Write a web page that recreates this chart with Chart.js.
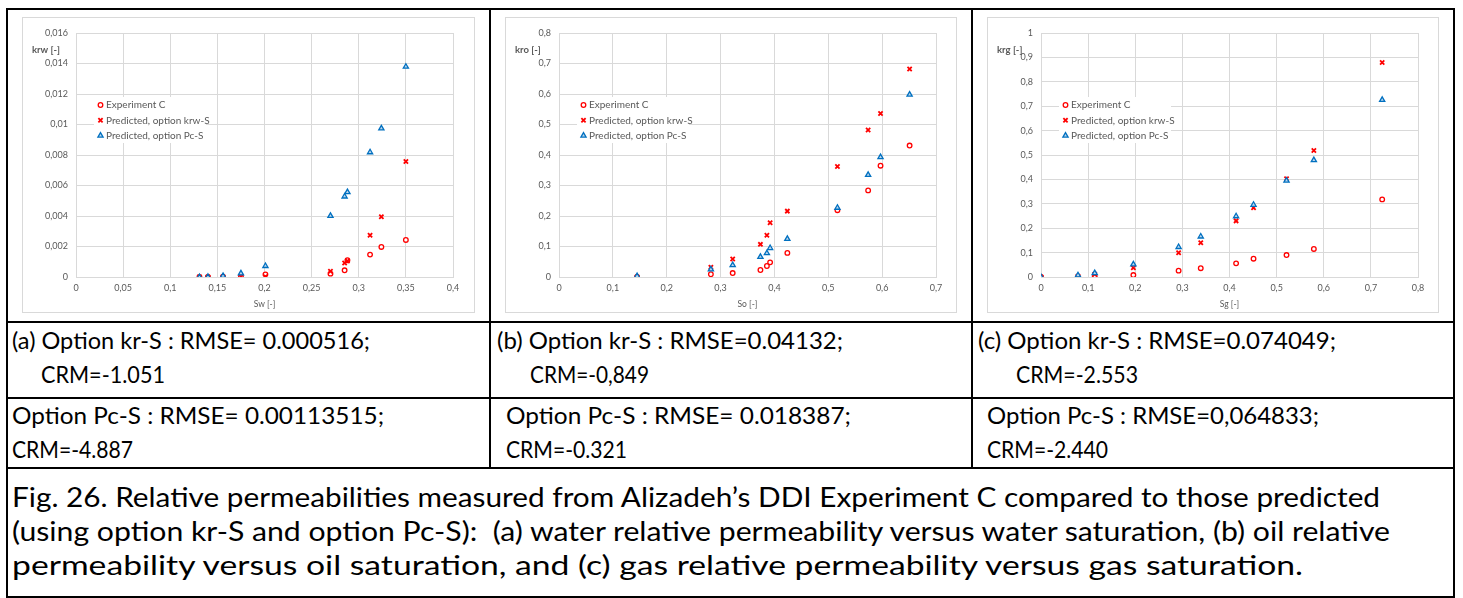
<!DOCTYPE html>
<html>
<head>
<meta charset="utf-8">
<script src="https://cdn.jsdelivr.net/npm/chart.js@4.4.1/dist/chart.umd.min.js"></script>
<style>
  body { margin: 0; background: #fff; width: 1463px; height: 598px; overflow: hidden; position: relative; font-family: Lato, "Open Sans", sans-serif; }
  .hl, .vl { position: absolute; background: #000; }
  .frame { position: absolute; border: 1px solid #d9d9d9; box-sizing: border-box; pointer-events: none; }
  canvas { position: absolute; }
  .txt { position: absolute; white-space: pre; font-size: 23px; line-height: 34px; color: #000; transform-origin: 0 50%; }
  .cap { font-size: 27px; }
</style>
</head>
<body>

<!-- chart boxes -->
<canvas id="chartW" width="453" height="296" style="left:22px;top:17px"></canvas>
<canvas id="chartO" width="452" height="296" style="left:505px;top:17px"></canvas>
<canvas id="chartG" width="452" height="296" style="left:987px;top:17px"></canvas>
<div class="frame" style="left:22px;top:17px;width:453px;height:296px"></div>
<div class="frame" style="left:505px;top:17px;width:452px;height:296px"></div>
<div class="frame" style="left:987px;top:17px;width:452px;height:296px"></div>

<!-- table lines -->
<div class="hl" style="left:6px;top:8px;width:1449px;height:2px"></div>
<div class="hl" style="left:6px;top:321px;width:1449px;height:2px"></div>
<div class="hl" style="left:6px;top:397px;width:1449px;height:2px"></div>
<div class="hl" style="left:6px;top:467px;width:1449px;height:2px"></div>
<div class="hl" style="left:6px;top:596px;width:1449px;height:2px"></div>
<div class="vl" style="left:6px;top:8px;width:2px;height:590px"></div>
<div class="vl" style="left:1453px;top:8px;width:2px;height:590px"></div>
<div class="vl" style="left:489px;top:8px;width:2px;height:461px"></div>
<div class="vl" style="left:971px;top:8px;width:2px;height:461px"></div>

<!-- table text (data-w = width of the line in the figure) -->
<div class="txt" data-w="358" style="left:12px;top:323px">(a) Option kr-S : RMSE= 0.000516;</div>
<div class="txt" data-w="124" style="left:41px;top:357px">CRM=-1.051</div>
<div class="txt" data-w="346" style="left:497px;top:323px">(b) Option kr-S : RMSE=0.04132;</div>
<div class="txt" data-w="119" style="left:530px;top:357px">CRM=-0,849</div>
<div class="txt" data-w="358" style="left:978px;top:323px">(c) Option kr-S : RMSE=0.074049;</div>
<div class="txt" data-w="122" style="left:1016px;top:357px">CRM=-2.553</div>

<div class="txt" data-w="372" style="left:12px;top:398px">Option Pc-S : RMSE= 0.00113515;</div>
<div class="txt" data-w="121" style="left:12px;top:432px">CRM=-4.887</div>
<div class="txt" data-w="345" style="left:506px;top:398px">Option Pc-S : RMSE= 0.018387;</div>
<div class="txt" data-w="121" style="left:506px;top:432px">CRM=-0.321</div>
<div class="txt" data-w="332" style="left:987px;top:398px">Option Pc-S : RMSE=0,064833;</div>
<div class="txt" data-w="121" style="left:987px;top:432px">CRM=-2.440</div>

<div class="txt cap" data-w="1368" style="left:12px;top:480px">Fig. 26. Relative permeabilities measured from Alizadeh’s DDI Experiment C compared to those predicted</div>
<div class="txt cap" data-w="1378" style="left:12px;top:514px">(using option kr-S and option Pc-S):  (a) water relative permeability versus water saturation, (b) oil relative</div>
<div class="txt cap" data-w="1291" style="left:12px;top:548px">permeability versus oil saturation, and (c) gas relative permeability versus gas saturation.</div>

<script>
// series labels
const seriesLabels = ['Experiment C', 'Predicted, option krw-S', 'Predicted, option Pc-S'];

// (a) water
const swValues  = [0.131, 0.140, 0.156, 0.175, 0.201, 0.270, 0.285, 0.288, 0.312, 0.324, 0.350];
const krwExp    = [0, 0.00001, 0.00002, 0.00002, 0.000175, 0.00022, 0.00044, 0.0011, 0.00147, 0.00197, 0.00243];
const krwPredKr = [0, 0, 0, 0.00001, 0.00001, 0.00037, 0.00092, 0.00105, 0.00274, 0.00395, 0.00758];
const krwPredPc = [0, 0.00001, 0.00007, 0.00024, 0.00072, 0.00401, 0.00528, 0.00557, 0.00818, 0.00975, 0.01379];
const swTicks   = [0, 0.05, 0.1, 0.15, 0.2, 0.25, 0.3, 0.35, 0.4];
const krwTicks  = [0, 0.002, 0.004, 0.006, 0.008, 0.01, 0.012, 0.014, 0.016];

// (b) oil
const soValues  = [0.145, 0.282, 0.3225, 0.374, 0.386, 0.392, 0.424, 0.517, 0.574, 0.597, 0.651];
const kroExp    = [0, 0.009, 0.013, 0.023, 0.036, 0.048, 0.079, 0.219, 0.284, 0.365, 0.431];
const kroPredKr = [0, 0.032, 0.059, 0.107, 0.137, 0.178, 0.216, 0.362, 0.482, 0.536, 0.682];
const kroPredPc = [0.003, 0.025, 0.039, 0.066, 0.078, 0.095, 0.125, 0.227, 0.335, 0.393, 0.598];
const soTicks   = [0, 0.1, 0.2, 0.3, 0.4, 0.5, 0.6, 0.7];
const kroTicks  = [0, 0.1, 0.2, 0.3, 0.4, 0.5, 0.6, 0.7, 0.8];

// (c) gas
const sgValues  = [0, 0.0785, 0.114, 0.196, 0.292, 0.339, 0.414, 0.451, 0.521, 0.579, 0.724];
const krgExp    = [0, 0, 0.0014, 0.008, 0.026, 0.036, 0.056, 0.075, 0.090, 0.115, 0.318];
const krgPredKr = [0, 0.003, 0.011, 0.038, 0.099, 0.140, 0.230, 0.284, 0.403, 0.518, 0.879];
const krgPredPc = [0, 0.007, 0.016, 0.052, 0.123, 0.166, 0.249, 0.296, 0.395, 0.479, 0.726];
const sgTicks   = [0, 0.1, 0.2, 0.3, 0.4, 0.5, 0.6, 0.7, 0.8];
const krgTicks  = [0, 0.1, 0.2, 0.3, 0.4, 0.5, 0.6, 0.7, 0.8, 0.9, 1];

const RED = '#ff0000';
const BLUE = '#0070c0';
const GRID = '#d9d9d9';
const LABEL = '#595959';

Chart.defaults.font.family = 'Lato, "Open Sans", sans-serif';
Chart.defaults.color = LABEL;

// stretch each table line to the width it has in the figure
document.querySelectorAll('.txt').forEach(el => {
  const w = el.getBoundingClientRect().width;
  const target = Number(el.dataset.w);
  if (w > 0 && target) el.style.transform = 'scaleX(' + (target / w).toFixed(4) + ')';
});

function toPoints(xs, ys) {
  return xs.map((x, i) => ({ x: x, y: ys[i] }));
}

function fmt(v) {
  return String(v).replace('.', ',');
}

// draw one marker like the chart does (used for the legend)
function drawMarker(ctx, ds, x, y) {
  const r = ds.pointRadius;
  ctx.strokeStyle = ds.pointBorderColor;
  ctx.fillStyle = ds.pointBackgroundColor;
  ctx.lineWidth = ds.pointBorderWidth;
  ctx.beginPath();
  if (ds.pointStyle === 'circle') {
    ctx.arc(x, y, r, 0, Math.PI * 2);
    ctx.fill();
    ctx.stroke();
  } else if (ds.pointStyle === 'crossRot') {
    const d = r * Math.SQRT1_2;
    ctx.moveTo(x - d, y - d); ctx.lineTo(x + d, y + d);
    ctx.moveTo(x + d, y - d); ctx.lineTo(x - d, y + d);
    ctx.stroke();
  } else {
    let a = 0;
    ctx.moveTo(x + Math.sin(a) * r, y - Math.cos(a) * r);
    a += Math.PI * 2 / 3;
    ctx.lineTo(x + Math.sin(a) * r, y - Math.cos(a) * r);
    a += Math.PI * 2 / 3;
    ctx.lineTo(x + Math.sin(a) * r, y - Math.cos(a) * r);
    ctx.closePath();
    ctx.fill();
    ctx.stroke();
  }
}

// legend inside the plot + horizontal y title at top left
const insideLegend = {
  id: 'insideLegend',
  afterDatasetsDraw(chart, args, opts) {
    const ctx = chart.ctx;
    ctx.save();
    ctx.fillStyle = '#fff';
    ctx.fillRect(72, 80, 112, 46);
    ctx.textBaseline = 'middle';
    chart.data.datasets.forEach((ds, i) => {
      const y = 88 + i * 15.3;
      drawMarker(ctx, ds, 78.5, y);
      ctx.fillStyle = LABEL;
      ctx.font = '10px Lato';
      ctx.textAlign = 'left';
      ctx.fillText(ds.label, 84, y);
    });
    ctx.fillStyle = LABEL;
    ctx.font = 'bold 9.5px Lato';
    ctx.fillText(opts.yTitle, 10, 33);
    ctx.restore();
  }
};

function makeChart(id, xs, ysExp, ysKr, ysPc, xTicks, yTicks, xTitle, yTitle) {
  const canvas = document.getElementById(id);
  const ctx = canvas.getContext('2d');
  return new Chart(ctx, {
    type: 'scatter',
    data: {
      datasets: [
        {
          label: seriesLabels[0],
          data: toPoints(xs, ysExp),
          pointStyle: 'circle',
          pointRadius: 2.3,
          pointBorderWidth: 1.3,
          pointBorderColor: RED,
          pointBackgroundColor: '#fff',
          borderColor: RED,
          order: 3
        },
        {
          label: seriesLabels[1],
          data: toPoints(xs, ysKr),
          pointStyle: 'crossRot',
          pointRadius: 3,
          pointBorderWidth: 1.8,
          pointBorderColor: RED,
          pointBackgroundColor: RED,
          borderColor: RED,
          order: 2
        },
        {
          label: seriesLabels[2],
          data: toPoints(xs, ysPc),
          pointStyle: 'triangle',
          pointRadius: 3,
          pointBorderWidth: 1.3,
          pointBorderColor: BLUE,
          pointBackgroundColor: '#bdd7ee',
          borderColor: BLUE,
          order: 1
        }
      ]
    },
    options: {
      responsive: false,
      animation: false,
      layout: { padding: { top: 16, right: canvas.width - 431, left: 0, bottom: 0 } },
      plugins: {
        legend: { display: false },
        tooltip: { enabled: false },
        insideLegend: { yTitle: yTitle }
      },
      scales: {
        x: {
          type: 'linear',
          min: xTicks[0],
          max: xTicks[xTicks.length - 1],
          afterBuildTicks: (s) => { s.ticks = xTicks.map(v => ({ value: v })); },
          afterFit: (s) => { s.height = 36; },
          grid: { color: GRID, lineWidth: 1, drawTicks: false },
          border: { color: GRID },
          ticks: { padding: 6, autoSkip: false, maxRotation: 0, font: { size: 9 }, color: LABEL, callback: fmt },
          title: { display: true, text: xTitle, color: LABEL, font: { size: 8.5 }, padding: { top: 0, bottom: 4 } }
        },
        y: {
          type: 'linear',
          min: yTicks[0],
          max: yTicks[yTicks.length - 1],
          afterBuildTicks: (s) => { s.ticks = yTicks.map(v => ({ value: v })); },
          afterFit: (s) => { s.width = 54; },
          grid: { color: GRID, lineWidth: 1, drawTicks: false },
          border: { color: GRID },
          ticks: { padding: 8, autoSkip: false, font: { size: 9 }, color: LABEL, callback: fmt }
        }
      }
    },
    plugins: [insideLegend]
  });
}

makeChart('chartW', swValues, krwExp, krwPredKr, krwPredPc, swTicks, krwTicks, 'Sw [-]', 'krw [-]');
makeChart('chartO', soValues, kroExp, kroPredKr, kroPredPc, soTicks, kroTicks, 'So [-]', 'kro [-]');
makeChart('chartG', sgValues, krgExp, krgPredKr, krgPredPc, sgTicks, krgTicks, 'Sg [-]', 'krg [-]');
</script>
</body>
</html>
